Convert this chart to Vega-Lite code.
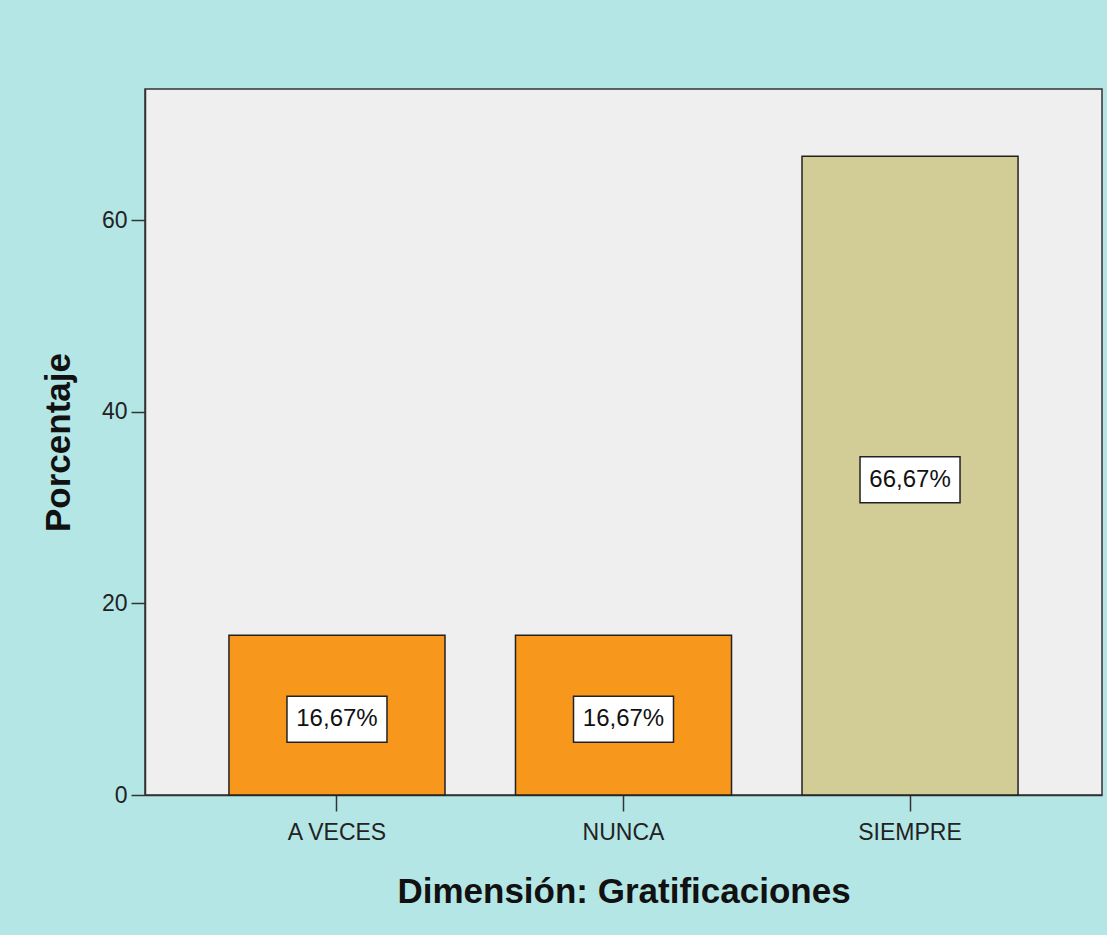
{
  "$schema": "https://vega.github.io/schema/vega-lite/v6.json",
  "width": 957,
  "height": 706,
  "autosize": "none",
  "padding": {"left": 145, "top": 89, "right": 5, "bottom": 140},
  "background": "#b4e6e6",
  "config": {
    "view": {"fill": "#efefef", "stroke": "#333333", "strokeWidth": 1.5},
    "font": "Liberation Sans"
  },
  "data": {
    "values": [
      {"categoria": "A VECES", "porcentaje": 16.67, "etiqueta": "16,67%"},
      {"categoria": "NUNCA", "porcentaje": 16.67, "etiqueta": "16,67%"},
      {"categoria": "SIEMPRE", "porcentaje": 66.67, "etiqueta": "66,67%"}
    ]
  },
  "encoding": {
    "x": {
      "field": "categoria",
      "type": "nominal",
      "sort": null,
      "scale": {"paddingInner": 0.246, "paddingOuter": 0.293},
      "axis": {
        "title": "Dimensión: Gratificaciones",
        "titleFontSize": 35,
        "titleFontWeight": "bold",
        "titleColor": "#111111",
        "titlePadding": 30,
        "labelAngle": 0,
        "labelFontSize": 23,
        "labelColor": "#222222",
        "labelPadding": 10,
        "tickSize": 16,
        "tickColor": "#333333",
        "tickWidth": 1.5,
        "domainColor": "#333333",
        "domainWidth": 1.5
      }
    }
  },
  "layer": [
    {
      "mark": {"type": "bar", "stroke": "#222222", "strokeWidth": 1.5},
      "encoding": {
        "y": {
          "field": "porcentaje",
          "type": "quantitative",
          "scale": {"domain": [0, 73.7], "nice": false},
          "axis": {
            "title": "Porcentaje",
            "titleFontSize": 35,
            "titleFontWeight": "bold",
            "titleColor": "#111111",
            "titlePadding": 25,
            "values": [0, 20, 40, 60],
            "grid": false,
            "labelFontSize": 23,
            "labelColor": "#222222",
            "labelPadding": 4,
            "tickSize": 14,
            "tickColor": "#333333",
            "tickWidth": 1.5,
            "domainColor": "#333333",
            "domainWidth": 1.5
          }
        },
        "color": {
          "field": "categoria",
          "type": "nominal",
          "scale": {"domain": ["A VECES", "NUNCA", "SIEMPRE"], "range": ["#f7981d", "#f7981d", "#d2cd97"]},
          "legend": null
        }
      }
    },
    {
      "encoding": {
        "y": {
          "field": "porcentaje",
          "type": "quantitative",
          "scale": {"domain": [0, 147.4], "nice": false},
          "axis": null
        }
      },
      "layer": [
        {
          "mark": {
            "type": "point",
            "shape": "M-1,-0.46L1,-0.46L1,0.46L-1,0.46Z",
            "size": 10000,
            "filled": true,
            "fill": "#ffffff",
            "stroke": "#222222",
            "strokeWidth": 1.5,
            "opacity": 1,
            "yOffset": 4
          }
        },
        {
          "mark": {
            "type": "text",
            "fontSize": 24,
            "color": "#111111",
            "align": "center",
            "baseline": "middle",
            "yOffset": 4
          },
          "encoding": {"text": {"field": "etiqueta"}}
        }
      ]
    }
  ],
  "resolve": {"scale": {"y": "independent"}}
}
